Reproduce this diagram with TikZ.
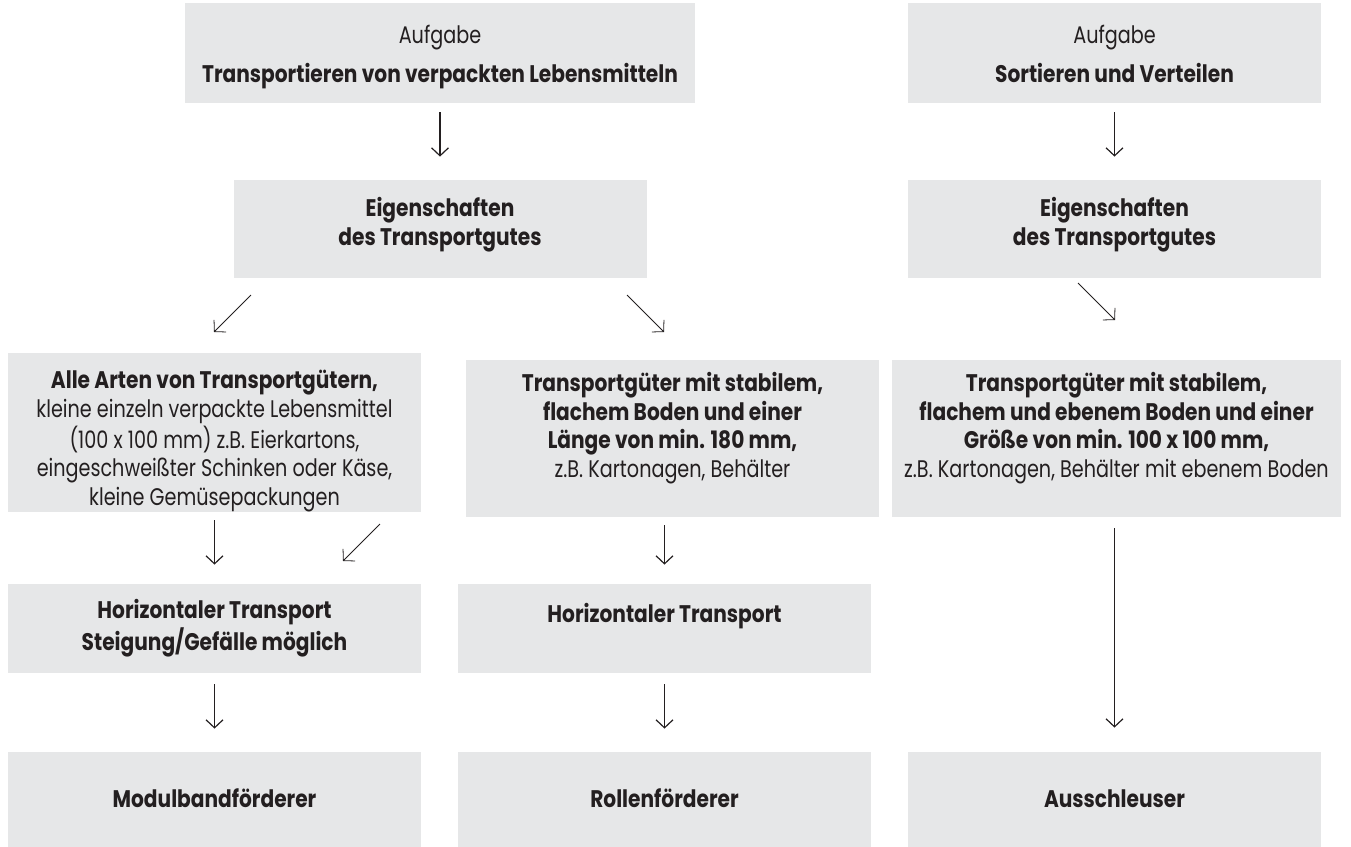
\documentclass[tikz,border=0pt]{standalone}
\usepackage{fontspec}
\setmainfont{Poppins}[FakeStretch=0.8, BoldFeatures={FakeStretch=0.84}]
\usetikzlibrary{arrows.meta}
\definecolor{boxgray}{HTML}{E6E7E8}
\definecolor{ink}{HTML}{231F20}
\tikzset{
  box/.style={fill=boxgray, text=ink, inner sep=0pt, align=center, minimum width=206.5pt,
    text depth=0pt, font=\fontsize{12pt}{14.25pt}\selectfont},
  boldbox/.style={box, font=\fontsize{12pt}{14.25pt}\selectfont\bfseries},
  arr/.style={draw=ink, line width=0.6pt, -{Straight Barb[length=4pt,width=8.5pt]}},
}
\begin{document}
\begin{tikzpicture}[x=0.5pt, y=-0.5pt]
\useasboundingbox (0,0) rectangle (1351,847);

% Aufgaben
\node[box, minimum width=255pt, minimum height=50pt, text height=29pt] (aufgL) at (440,53)
  {Aufgabe\\[5pt]\textbf{Transportieren von verpackten Lebensmitteln}};
\node[box, minimum height=50pt, text height=29pt] (aufgR) at (1114.5,53)
  {Aufgabe\\[5pt]\textbf{Sortieren und Verteilen}};

% Eigenschaften
\node[boldbox, minimum height=49pt, text height=16pt] (eigL) at (440,229) {Eigenschaften\\des Transportgutes};
\node[boldbox, minimum height=49pt, text height=16pt] (eigR) at (1114.5,229) {Eigenschaften\\des Transportgutes};

% Transportgueter
\node[box, minimum height=79.5pt, text height=72.5pt] (alle) at (214.5,432.5)
  {\textbf{Alle Arten von Transportgütern,}\\kleine einzeln verpackte Lebensmittel\\(100 x 100 mm) z.B. Eierkartons,\\eingeschweißter Schinken oder Käse,\\kleine Gemüsepackungen};
\node[box, minimum height=78.5pt, text height=38.5pt] (stabil) at (672.5,438.5)
  {\textbf{Transportgüter mit stabilem,}\\\textbf{flachem Boden und einer}\\\textbf{Länge von min. 180 mm,}\\z.B. Kartonagen, Behälter};
\node[box, minimum width=224.5pt, minimum height=78.5pt, text height=38.5pt] (eben) at (1116.5,438.5)
  {\textbf{Transportgüter mit stabilem,}\\\textbf{flachem und ebenem Boden und einer}\\\textbf{Größe von min. 100 x 100 mm,}\\z.B. Kartonagen, Behälter mit ebenem Boden};

% Transportart
\node[boldbox, minimum height=44.5pt, text height=21.5pt] (horizL) at (214.5,628.5) {Horizontaler Transport\\Steigung/Gefälle möglich};
\node[boldbox, minimum height=44.5pt, text height=7pt, text depth=13.5pt] (horizM) at (664.5,628.5) {Horizontaler Transport};

% Foerderer
\node[boldbox, minimum height=47.5pt, text height=8pt] (modul) at (214.5,799.5) {Modulbandförderer};
\node[boldbox, minimum height=47.5pt, text height=8pt] (rollen) at (664.5,799.5) {Rollenförderer};
\node[boldbox, minimum height=47.5pt, text height=8pt] (aus) at (1114.5,799.5) {Ausschleuser};

% gerade Pfeile
\draw[arr, shorten <=4.5pt, shorten >=11.5pt] (aufgL) -- (eigL);
\draw[arr, shorten <=4.5pt, shorten >=11.5pt] (aufgR) -- (eigR);
\draw[arr, shorten <=4pt, shorten >=9.5pt] (alle) -- (horizL);
\draw[arr, shorten <=4pt, shorten >=9.5pt] (stabil.south -| horizM.north) -- (horizM.north);
\draw[arr, shorten <=5.5pt, shorten >=12pt] (eben.south -| aus.north) -- (aus.north);
\draw[arr, shorten <=5.5pt, shorten >=11.5pt] (horizL) -- (modul);
\draw[arr, shorten <=5.5pt, shorten >=11.5pt] (horizM) -- (rollen);

% schraege Pfeile
\coordinate (d1s) at (251,295); \coordinate (d1e) at (214,332);
\coordinate (d2s) at (627,295); \coordinate (d2e) at (664,332);
\coordinate (d3s) at (1078,283); \coordinate (d3e) at (1115,320);
\coordinate (d4s) at (380,524); \coordinate (d4e) at (343,561);
\foreach \s/\e in {d1s/d1e, d2s/d2e, d3s/d3e, d4s/d4e}
{
\draw[arr, line width=0.4pt] (\s) -- (\e);
}
\end{tikzpicture}
\end{document}
